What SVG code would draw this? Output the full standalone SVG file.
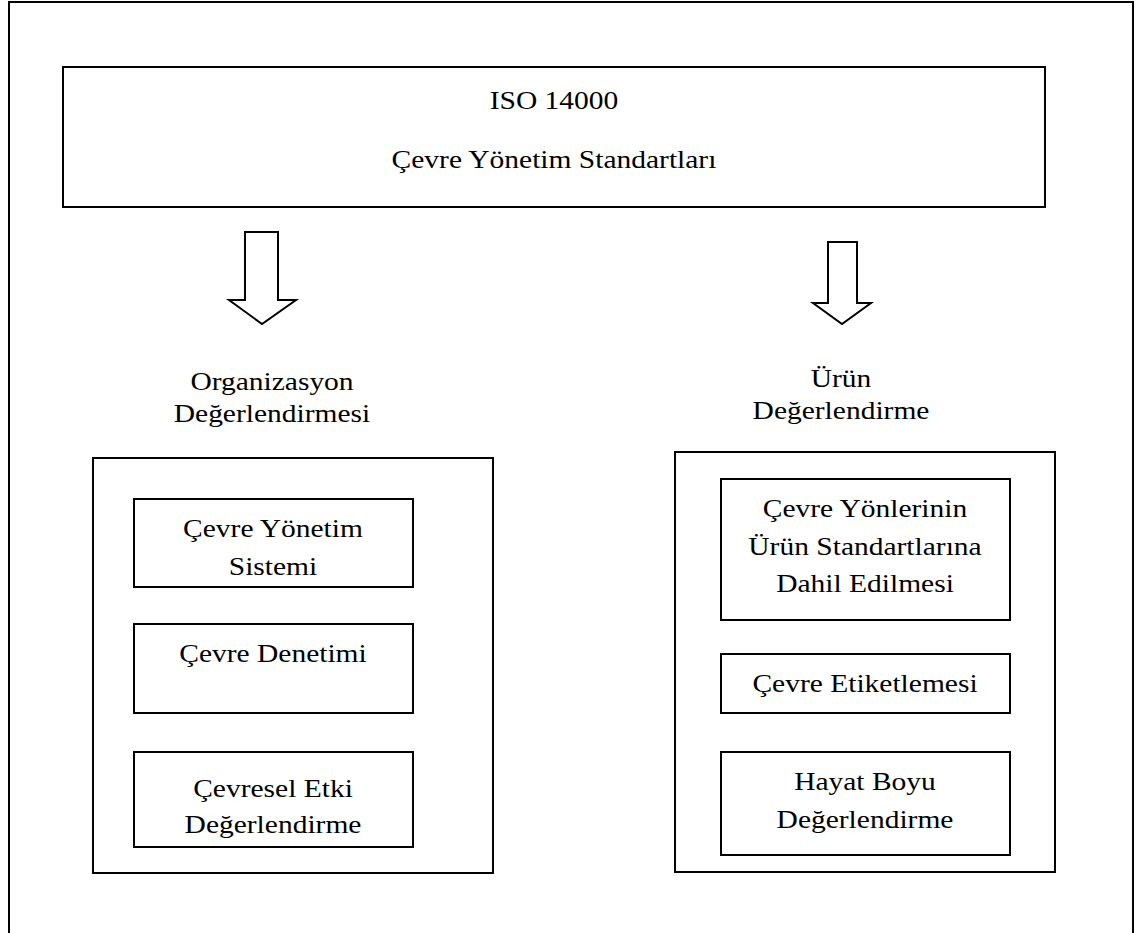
<svg xmlns="http://www.w3.org/2000/svg" width="1139" height="933" viewBox="0 0 1139 933">
<style>
.box{fill:#fff;stroke:#000;stroke-width:2}
.arrow{fill:#fff;stroke:#000;stroke-width:2;stroke-linejoin:miter}
.t{font-family:"Liberation Serif","Times New Roman",serif;font-size:25px;fill:#000;text-anchor:middle}
</style>
<rect width="1139" height="933" fill="#fff"/>
<g id="frame"><path d="M9,940 V2 H1133 V940" fill="none" stroke="#000" stroke-width="2"/></g>
<g id="iso">
<rect class="box" x="63" y="67" width="982" height="140"/>
<text class="t" transform="translate(554,109) scale(1.18 1)">ISO 14000</text>
<text class="t" transform="translate(554,168) scale(1.18 1)">Çevre Yönetim Standartları</text>
</g>
<g id="connectors">
<polygon class="arrow" points="245,232 278,232 278,300 296,300 262,324 229,300 245,300"/>
<polygon class="arrow" points="828,242 857,242 857,303 871,303 842,324 813,303 828,303"/>
</g>
<g id="org-label">
<text class="t" transform="translate(272,390) scale(1.18 1)">Organizasyon</text>
<text class="t" transform="translate(272,422) scale(1.18 1)">Değerlendirmesi</text>
</g>
<g id="urun-label">
<text class="t" transform="translate(841,387) scale(1.18 1)">Ürün</text>
<text class="t" transform="translate(841,419) scale(1.18 1)">Değerlendirme</text>
</g>
<g id="org-box"><rect class="box" x="93" y="458" width="400" height="415"/></g>
<g id="cys">
<rect class="box" x="134" y="499" width="279" height="88"/>
<text class="t" transform="translate(273,537) scale(1.18 1)">Çevre Yönetim</text>
<text class="t" transform="translate(273,575) scale(1.18 1)">Sistemi</text>
</g>
<g id="cd">
<rect class="box" x="134" y="624" width="279" height="89"/>
<text class="t" transform="translate(273,662) scale(1.18 1)">Çevre Denetimi</text>
</g>
<g id="ced">
<rect class="box" x="134" y="752" width="279" height="95"/>
<text class="t" transform="translate(273,797) scale(1.18 1)">Çevresel Etki</text>
<text class="t" transform="translate(273,833) scale(1.18 1)">Değerlendirme</text>
</g>
<g id="urun-box"><rect class="box" x="675" y="452" width="380" height="420"/></g>
<g id="cyu">
<rect class="box" x="721" y="479" width="289" height="141"/>
<text class="t" transform="translate(865,517) scale(1.18 1)">Çevre Yönlerinin</text>
<text class="t" transform="translate(865,555) scale(1.18 1)">Ürün Standartlarına</text>
<text class="t" transform="translate(865,592) scale(1.18 1)">Dahil Edilmesi</text>
</g>
<g id="ce">
<rect class="box" x="721" y="654" width="289" height="59"/>
<text class="t" transform="translate(865,692) scale(1.18 1)">Çevre Etiketlemesi</text>
</g>
<g id="hbd">
<rect class="box" x="721" y="752" width="289" height="103"/>
<text class="t" transform="translate(865,790) scale(1.18 1)">Hayat Boyu</text>
<text class="t" transform="translate(865,828) scale(1.18 1)">Değerlendirme</text>
</g>
</svg>
